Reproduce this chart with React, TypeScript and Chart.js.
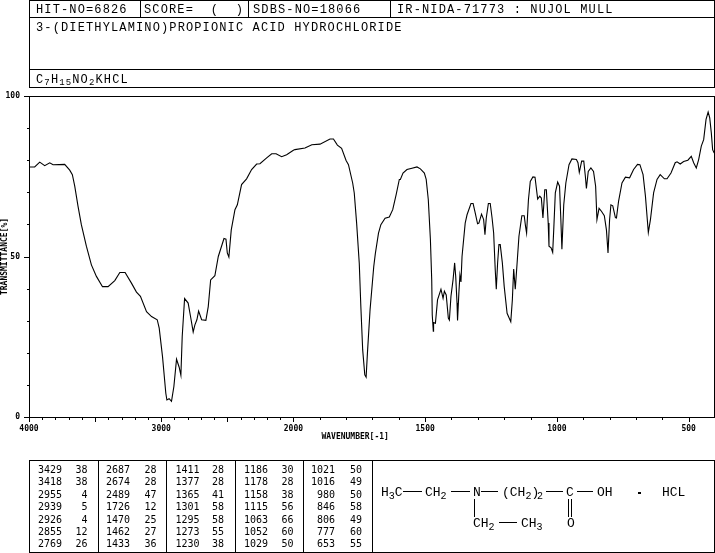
import React, { useEffect, useRef } from "react";
import { Chart, registerables, LinearScale } from "chart.js";

Chart.register(...registerables);

const headerHit = "HIT-NO=6826";
const headerScore = "SCORE=  (  )";
const headerSdbs = "SDBS-NO=18066";
const headerIr = "IR-NIDA-71773 : NUJOL MULL";
const compoundName = "3-(DIETHYLAMINO)PROPIONIC ACID HYDROCHLORIDE";
const xAxisTitle = "WAVENUMBER[-1]";
const yAxisTitle = "TRANSMITTANCE[%]";

const wavenumbers = [
  4000, 3957, 3919, 3881, 3843, 3818, 3730, 3692, 3672, 3654, 3629, 3604, 3566, 3528, 3490, 3444, 3402, 3351, 3313, 3273,
  3225, 3187, 3157, 3111, 3073, 3030, 3015, 2990, 2965, 2957, 2940, 2922, 2904, 2884, 2864, 2851, 2841, 2823, 2796, 2778,
  2758, 2745, 2730, 2717, 2694, 2662, 2644, 2626, 2594, 2568, 2525, 2510, 2500, 2488, 2470, 2442, 2424, 2392, 2354, 2316,
  2278, 2253, 2202, 2164, 2131, 2089, 2051, 2000, 1994, 1956, 1930, 1899, 1861, 1848, 1833, 1817, 1800, 1791, 1775, 1769,
  1760, 1750, 1744, 1737, 1729, 1724, 1719, 1709, 1695, 1689, 1677, 1668, 1652, 1636, 1623, 1610, 1598, 1594, 1584, 1569,
  1550, 1531, 1518, 1503, 1496, 1488, 1480, 1475, 1473, 1469, 1468, 1461, 1453, 1440, 1432, 1427, 1420, 1412, 1408, 1402,
  1394, 1388, 1384, 1379, 1377, 1372, 1368, 1364, 1360, 1348, 1341, 1326, 1318, 1310, 1301, 1296, 1286, 1278, 1273, 1268,
  1260, 1253, 1246, 1240, 1234, 1230, 1225, 1220, 1215, 1207, 1200, 1189, 1175, 1169, 1164, 1158, 1151, 1144, 1133, 1124,
  1119, 1115, 1108, 1101, 1091, 1083, 1073, 1065, 1059, 1053, 1046, 1040, 1033, 1030, 1022, 1016, 1012, 1006, 997, 990,
  985, 981, 974, 966, 954, 943, 926, 920, 915, 906, 898, 892, 888, 881, 871, 861, 853, 848, 840, 831,
  820, 812, 806, 800, 795, 788, 778, 774, 766, 753, 740, 724, 709, 694, 685, 673, 664, 653, 645, 633,
  620, 608, 592, 582, 567, 551, 544, 532, 519, 503, 490, 481, 471, 462, 452, 443, 434, 426, 420, 414,
  409, 404, 400,
];
const transmittance = [
  77.9, 77.9, 79.4, 78.3, 79.2, 78.6, 78.7, 76.9, 75.5, 71.9, 65.6, 59.9, 53.2, 47.4, 43.8, 40.6, 40.6, 42.5, 45.0, 45.0,
  41.7, 38.9, 37.6, 32.8, 31.3, 30.3, 27.7, 18.8, 7.4, 5.3, 5.7, 4.9, 9.5, 18.0, 15.5, 13.0, 25.1, 36.9, 35.5, 31.3,
  26.5, 28.7, 30.3, 33.0, 30.3, 30.1, 34.4, 42.7, 44.0, 50.0, 55.6, 55.4, 51.1, 49.8, 58.3, 64.6, 66.1, 72.4, 74.2, 77.1,
  78.8, 78.9, 80.7, 82.0, 82.0, 81.1, 81.7, 83.1, 83.3, 83.8, 84.8, 85.0, 86.6, 86.6, 84.7, 83.7, 79.9, 78.6, 72.9, 69.8,
  60.4, 47.9, 34.4, 20.9, 13.1, 12.4, 19.9, 33.4, 46.9, 50.9, 57.3, 59.9, 61.9, 62.3, 64.6, 69.3, 74.0, 74.0, 76.0, 77.1,
  77.5, 77.9, 77.3, 76.0, 74.0, 67.7, 55.2, 42.7, 31.8, 26.7, 29.4, 29.2, 36.5, 39.8, 37.0, 39.2, 38.0, 30.8, 30.2, 37.6,
  42.8, 48.0, 43.8, 35.5, 30.1, 38.6, 44.2, 42.1, 50.0, 60.4, 63.0, 66.5, 66.5, 63.6, 60.2, 60.4, 63.2, 61.5, 56.8, 62.0,
  66.5, 66.5, 62.0, 57.3, 45.9, 39.8, 48.0, 53.7, 53.7, 48.0, 40.7, 32.3, 29.7, 36.5, 46.1, 39.8, 48.0, 56.3, 62.7, 62.7,
  59.4, 57.3, 67.7, 73.4, 74.8, 74.7, 67.9, 68.8, 68.2, 62.0, 70.8, 70.8, 60.4, 53.2, 52.7, 51.3, 58.3, 69.8, 73.2, 71.9,
  61.5, 52.3, 66.1, 72.9, 78.6, 80.4, 80.2, 79.2, 76.2, 79.7, 79.7, 75.0, 71.2, 76.5, 77.6, 76.5, 71.9, 61.5, 65.0, 64.1,
  62.7, 58.3, 51.1, 61.5, 66.1, 65.8, 62.1, 62.0, 67.2, 72.9, 74.7, 74.5, 77.1, 78.7, 78.6, 75.5, 68.8, 57.5, 61.5, 69.8,
  74.0, 75.5, 74.2, 74.2, 76.0, 79.2, 79.5, 78.8, 79.6, 80.0, 81.2, 79.2, 77.6, 80.2, 84.4, 86.4, 92.7, 95.0, 93.2, 88.5,
  83.3, 82.4, 82.0,
];

const xTickValues = [
  4000, 3900, 3800, 3700, 3600, 3500, 3400, 3300, 3200, 3100, 3000, 2900, 2800, 2700, 2600, 2500, 2400, 2300, 2200, 2100,
  2000, 1900, 1800, 1700, 1600, 1500, 1400, 1300, 1200, 1100, 1000, 900, 800, 700, 600, 500, 400,
];
const xMajorTicks = [4000, 3500, 3000, 2500, 2000, 1500, 1000, 500];
const xLabelledTicks = [4000, 3000, 2000, 1500, 1000, 500];
const yLabelledTicks = [0, 50, 100];

const peakWavenumbers = [
  ["3429", "3418", "2955", "2939", "2926", "2855", "2769"],
  ["2687", "2674", "2489", "1726", "1470", "1462", "1433"],
  ["1411", "1377", "1365", "1301", "1295", "1273", "1230"],
  ["1186", "1178", "1158", "1115", "1063", "1052", "1029"],
  ["1021", "1016", "980", "846", "806", "777", "653"],
];
const peakValues = [
  ["38", "38", "4", "5", "4", "12", "26"],
  ["28", "28", "47", "12", "25", "27", "36"],
  ["28", "28", "41", "58", "58", "55", "38"],
  ["30", "28", "38", "56", "66", "60", "50"],
  ["50", "49", "50", "58", "49", "60", "55"],
];

const X_MAX = 4000;
const X_BREAK = 2000;
const X_MIN = 400;
const BREAK_SHARE = 264 / 685;

class SpectrumScale extends LinearScale {
  static id = "spectrum";
  static defaults = LinearScale.defaults;
  getPixelForValue(v: number) {
    const f =
      v >= X_BREAK
        ? ((X_MAX - v) / (X_MAX - X_BREAK)) * BREAK_SHARE
        : BREAK_SHARE + ((X_BREAK - v) / (X_BREAK - X_MIN)) * (1 - BREAK_SHARE);
    return this.left + f * this.width;
  }
}
Chart.register(SpectrumScale);

const frameAndTicks = {
  id: "frameAndTicks",
  afterDraw(chart: any) {
    const { ctx, chartArea: a, scales } = chart;
    ctx.save();
    ctx.strokeStyle = "#000";
    ctx.lineWidth = 1;
    ctx.strokeRect(a.left + 0.5, a.top + 0.5, a.right - a.left - 1, a.bottom - a.top);
    ctx.beginPath();
    for (const t of scales.x.ticks) {
      const p = Math.round(scales.x.getPixelForValue(t.value)) + 0.5;
      ctx.moveTo(p, a.bottom);
      ctx.lineTo(p, a.bottom + (xMajorTicks.includes(t.value) ? 5 : 3));
    }
    for (const t of scales.y.ticks) {
      const p = Math.round(scales.y.getPixelForValue(t.value)) + 0.5;
      ctx.moveTo(a.left, p);
      ctx.lineTo(a.left - (yLabelledTicks.includes(t.value) ? 5 : 2), p);
    }
    ctx.stroke();
    ctx.restore();
  },
};

const tickFont = { family: "'DejaVu Sans Mono'", size: 8, weight: "bold" as const };
const headerFont: React.CSSProperties = { fontFamily: "'Liberation Mono'", fontSize: 12, letterSpacing: 1.13 };
const tableFont: React.CSSProperties = { fontFamily: "'DejaVu Sans Mono'", fontSize: 10 };
const molFont: React.CSSProperties = { fontFamily: "'Liberation Mono'", fontSize: 13 };
const molSub: React.CSSProperties = { fontFamily: "'Liberation Mono'", fontSize: 10 };

const rowY = [473, 485, 498, 510, 523, 535, 547];
const wnRight = [62, 130, 199.5, 268, 335];
const valRight = [87.5, 156.5, 224, 293.5, 362];

function Mol({ x, y, a, s, b }: { x: number; y: number; a: string; s?: string; b?: string }) {
  return (
    <text x={x} y={y} style={molFont}>
      {a}
      {s ? <tspan dy={3} style={molSub}>{s}</tspan> : null}
      {b ? <tspan dy={-3}>{b}</tspan> : null}
    </text>
  );
}

export default function App() {
  const ref = useRef<HTMLCanvasElement>(null);
  useEffect(() => {
    const noSidePadding = (s: any) => {
      s.paddingLeft = 0;
      s.paddingRight = 0;
      s.paddingTop = 0;
      s.paddingBottom = 0;
    };
    const chart = new Chart(ref.current!, {
      type: "line",
      data: {
        datasets: [
          {
            data: wavenumbers.map((x, i) => ({ x, y: transmittance[i] })),
            borderColor: "#000",
            borderWidth: 1.1,
            pointRadius: 0,
            tension: 0,
            fill: false,
          },
        ],
      },
      options: {
        animation: false,
        responsive: false,
        devicePixelRatio: 1,
        layout: { padding: { top: 96, right: 0, left: 0, bottom: 0 } },
        plugins: { legend: { display: false }, tooltip: { enabled: false } },
        scales: {
          x: {
            type: "spectrum" as any,
            min: X_MIN,
            max: X_MAX,
            afterBuildTicks: (s: any) => {
              s.ticks = xTickValues.map((value) => ({ value }));
            },
            afterFit: (s: any) => {
              s.height = 28;
              noSidePadding(s);
            },
            grid: { display: false, drawTicks: false },
            border: { display: false },
            ticks: {
              autoSkip: false,
              maxRotation: 0,
              minRotation: 0,
              padding: 7,
              color: "#000",
              font: tickFont,
              callback: (v: any) => (xLabelledTicks.includes(v) ? String(v) : ""),
            },
            title: {
              display: true,
              text: xAxisTitle + "\u00a0".repeat(7),
              color: "#000",
              font: tickFont,
              padding: { top: 0, bottom: 3 },
            },
          },
          y: {
            min: 0,
            max: 100,
            afterFit: (s: any) => {
              s.width = 29;
              noSidePadding(s);
            },
            grid: { display: false, drawTicks: false },
            border: { display: false },
            ticks: {
              stepSize: 10,
              padding: 9,
              color: "#000",
              font: tickFont,
              callback: (v: any) => (yLabelledTicks.includes(v) ? String(v) : ""),
            },
            title: {
              display: true,
              text: yAxisTitle,
              color: "#000",
              font: tickFont,
              padding: { top: 0, bottom: 0 },
            },
          },
        },
      },
      plugins: [frameAndTicks],
    } as any);
    return () => chart.destroy();
  }, []);

  return (
    <div style={{ position: "fixed", left: 0, top: 0, width: 715, height: 553, background: "#fff", overflow: "hidden" }}>
      <canvas ref={ref} width={715} height={445} style={{ position: "absolute", left: 0, top: 0, display: "block" }} />
      <svg width={715} height={553} style={{ position: "absolute", left: 0, top: 0 }}>
        <g stroke="#000" strokeWidth={1} fill="none" shapeRendering="crispEdges">
          <rect x={29.5} y={0.5} width={685} height={87} />
          <line x1={29} x2={715} y1={17.5} y2={17.5} />
          <line x1={29} x2={715} y1={69.5} y2={69.5} />
          <line x1={140.5} x2={140.5} y1={0} y2={17} />
          <line x1={248.5} x2={248.5} y1={0} y2={17} />
          <line x1={390.5} x2={390.5} y1={0} y2={17} />
          <rect x={29.5} y={460.5} width={685} height={92} />
          <line x1={98.5} x2={98.5} y1={460} y2={552} />
          <line x1={166.5} x2={166.5} y1={460} y2={552} />
          <line x1={235.5} x2={235.5} y1={460} y2={552} />
          <line x1={303.5} x2={303.5} y1={460} y2={552} />
          <line x1={372.5} x2={372.5} y1={460} y2={552} />
          <line x1={403} x2={422} y1={491.5} y2={491.5} />
          <line x1={451} x2={470} y1={491.5} y2={491.5} />
          <line x1={481} x2={498} y1={491.5} y2={491.5} />
          <line x1={546} x2={563} y1={491.5} y2={491.5} />
          <line x1={577} x2={593} y1={491.5} y2={491.5} />
          <line x1={474.5} x2={474.5} y1={499} y2={517} />
          <line x1={499} x2={517} y1={522.5} y2={522.5} />
          <line x1={568.5} x2={568.5} y1={499} y2={517} />
          <line x1={571.5} x2={571.5} y1={499} y2={517} />
          <rect x={638} y={492} width={2} height={1} fill="#000" />
        </g>
        <g fill="#000">
          <text x={36} y={13} style={headerFont}>{headerHit}</text>
          <text x={144} y={13} style={headerFont} xmlSpace="preserve">{headerScore}</text>
          <text x={253} y={13} style={headerFont}>{headerSdbs}</text>
          <text x={397} y={13} style={headerFont}>{headerIr}</text>
          <text x={36} y={31} style={headerFont}>{compoundName}</text>
          <text x={36} y={83} style={headerFont}>
            C<tspan dy={2} style={{ fontSize: 9 }}>7</tspan>
            <tspan dy={-2}>H</tspan>
            <tspan dy={2} style={{ fontSize: 9 }}>15</tspan>
            <tspan dy={-2}>NO</tspan>
            <tspan dy={2} style={{ fontSize: 9 }}>2</tspan>
            <tspan dy={-2}>KHCL</tspan>
          </text>
          {peakWavenumbers.map((col, c) =>
            col.map((w, r) => (
              <g key={`${c}-${r}`}>
                <text x={wnRight[c]} y={rowY[r]} textAnchor="end" style={tableFont}>{w}</text>
                <text x={valRight[c]} y={rowY[r]} textAnchor="end" style={tableFont}>{peakValues[c][r]}</text>
              </g>
            )),
          )}
          <Mol x={381} y={496} a="H" s="3" b="C" />
          <Mol x={425} y={496} a="CH" s="2" />
          <Mol x={473} y={496} a="N" />
          <Mol x={502} y={496} a="(CH" s="2" b=")" />
          <text x={537} y={499} style={molSub}>2</text>
          <Mol x={566} y={496} a="C" />
          <Mol x={597} y={496} a="OH" />
          <Mol x={662} y={496} a="HCL" />
          <Mol x={473} y={527} a="CH" s="2" />
          <Mol x={521} y={527} a="CH" s="3" />
          <Mol x={567} y={527} a="O" />
        </g>
      </svg>
    </div>
  );
}
